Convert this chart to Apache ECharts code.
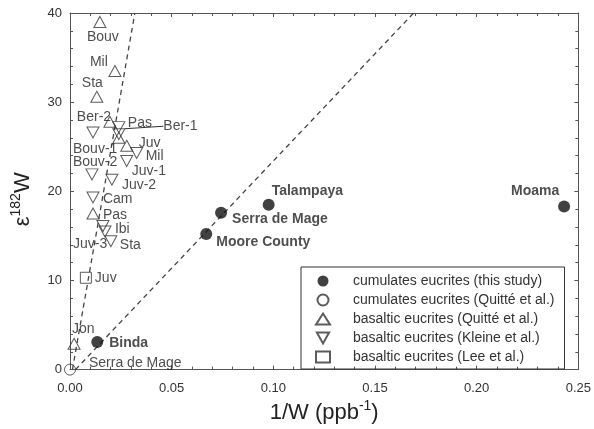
<!DOCTYPE html>
<html>
<head>
<meta charset="utf-8">
<script src="https://cdn.jsdelivr.net/npm/echarts@6/dist/echarts.min.js"></script>
<style>
    html, body { margin: 0; padding: 0; background: #fff; }
    #chart { width: 594px; height: 429px; }
</style>
</head>
<body>
<div id="chart"></div>
<script>
// cumulates eucrites (this study)
const studyNames = ['Binda', 'Moore County', 'Serra de Mage', 'Talampaya', 'Moama'];
const studyX = [0.0134, 0.067, 0.0743, 0.0977, 0.243];
const studyY = [3.1, 15.2, 17.6, 18.5, 18.3];

// cumulates eucrites (Quitté et al.)
const cumQuitteNames = ['Serra de Mage'];
const cumQuitteX = [0.0];
const cumQuitteY = [0.0];

// basaltic eucrites (Quitté et al.)
const basQuitteNames = ['Bouv', 'Mil', 'Sta', 'Ber-2', '', 'Juv', 'Pas', 'Jon'];
const basQuitteX = [0.0147, 0.0221, 0.0132, 0.0196, 0.024, 0.0279, 0.0113, 0.002];
const basQuitteY = [39.0, 33.5, 30.6, 27.8, 26.0, 25.1, 17.5, 2.9];

// basaltic eucrites (Kleine et al.)
const kleineNames = ['Bouv-1', 'Pas', 'Ber-1', 'Mil', 'Juv-1', 'Bouv-2', 'Juv-2', 'Cam', 'Ibi', 'Juv-3', 'Sta'];
const kleineX = [0.0113, 0.024, 0.024, 0.0328, 0.0279, 0.0108, 0.0206, 0.0113, 0.0162, 0.0172, 0.0201];
const kleineY = [26.6, 27.2, 26.4, 24.3, 23.4, 21.9, 21.3, 19.3, 16.1, 15.5, 14.4];

// basaltic eucrites (Lee et al.)
const leeNames = ['Juv'];
const leeX = [0.0078];
const leeY = [10.3];

// dashed reference lines
const steepLineX = [0.0012, 0.0319];
const steepLineY = [0, 40];
const shallowLineX = [0.0027, 0.169];
const shallowLineY = [0, 40];

const xTicks = [0, 0.05, 0.10, 0.15, 0.20, 0.25];
const yTicks = [0, 10, 20, 30, 40];

// label offsets (px) relative to marker centre
const studyLabelOffsets = [[12, 1], [10, 8], [11, 6], [3, -14], [-53, -15]];
const cumQuitteLabelOffsets = [[19, -6]];
const basQuitteLabelOffsets = [[-13, 15], [-25, -9], [-15, -14], [-33, -5], [0, 0], [12, -3], [10, 2], [-2, -15]];
const kleineLabelOffsets = [[-20, 17], [9, -4], [33, -8], [9, 3], [5, 10], [-19, -12], [10, 5], [10, 2], [12, 3], [-32, 13], [9, 4]];
const leeLabelOffsets = [[9, 0]];

const FONT = 'Liberation Sans, Arial, sans-serif';
const INK = '#222';
const FRAME = '#555';

const buildData = (names, xs, ys, offsets, bold) => names.map((name, i) => ({
    name,
    value: [xs[i], ys[i]],
    label: {
        show: name !== '',
        position: 'inside',
        align: 'left',
        verticalAlign: 'middle',
        offset: offsets ? offsets[i] : [0, 0],
        color: INK,
        fontFamily: FONT,
        fontSize: 14,
        fontWeight: bold ? 'bold' : 'normal',
        textBorderWidth: 0,
        formatter: '{b}',
    },
}));

// Kleine labels are placed through labelLayout so Ber-1 can have a leader line
const kleineData = buildData(kleineNames, kleineX, kleineY, null, false);
const berIndex = kleineNames.indexOf('Ber-1');
kleineData[berIndex].label.position = 'right';
kleineData[berIndex].labelLine = { show: true, lineStyle: { color: '#333', width: 1 } };

const openStyle = { color: 'rgba(255,255,255,0)', borderColor: '#333', borderWidth: 1 };
const downTriangle = 'path://M0,0L10,0L5,9Z';

const lineSeries = (xs, ys) => ({
    type: 'line',
    data: xs.map((x, i) => [x, ys[i]]),
    symbol: 'none',
    silent: true,
    lineStyle: { color: '#444', width: 1.3, type: [5, 4] },
    z: 1,
});

const axisCommon = {
    axisLine: { onZero: false, lineStyle: { color: FRAME, width: 1 } },
    axisTick: { inside: true, length: 4, lineStyle: { color: FRAME } },
    minorTick: { show: true, splitNumber: 5, length: 3, lineStyle: { color: FRAME } },
    splitLine: { show: false },
};

const nameStyle = {
    fontFamily: FONT,
    fontSize: 22,
    color: INK,
    rich: { sup: { fontFamily: FONT, fontSize: 14, color: INK, padding: [0, 0, 13, 0] } },
};

const chart = echarts.init(document.getElementById('chart'), null, { renderer: 'canvas' });

chart.setOption({
    backgroundColor: '#fff',
    animation: false,
    grid: { left: 70, right: 14, top: 13, bottom: 54 },
    xAxis: [
        {
            ...axisCommon,
            type: 'value',
            min: xTicks[0],
            max: xTicks[xTicks.length - 1],
            interval: 0.05,
            name: '1/W (ppb{sup|-1})',
            nameLocation: 'middle',
            nameGap: 25,
            nameTextStyle: nameStyle,
            axisLabel: {
                margin: 12,
                color: '#333',
                fontFamily: FONT,
                fontSize: 13,
                formatter: (v) => v.toFixed(2),
            },
        },
        {
            ...axisCommon,
            type: 'value',
            position: 'top',
            min: xTicks[0],
            max: xTicks[xTicks.length - 1],
            interval: 0.05,
            axisLabel: { show: false },
        },
    ],
    yAxis: [
        {
            ...axisCommon,
            type: 'value',
            min: yTicks[0],
            max: yTicks[yTicks.length - 1],
            interval: 10,
            name: 'ε{sup|182}W',
            nameLocation: 'middle',
            nameGap: 34,
            nameRotate: 90,
            nameTextStyle: { ...nameStyle, padding: [0, 16, 0, 0] },
            axisLabel: { margin: 8, color: '#333', fontFamily: FONT, fontSize: 13 },
        },
        {
            ...axisCommon,
            type: 'value',
            position: 'right',
            min: yTicks[0],
            max: yTicks[yTicks.length - 1],
            interval: 10,
            axisLabel: { show: false },
        },
    ],
    legend: {
        orient: 'vertical',
        left: 301,
        top: 267,
        padding: [7, 10, 5, 14],
        itemGap: 5,
        itemWidth: 14,
        itemHeight: 11,
        borderColor: '#333',
        borderWidth: 1,
        textStyle: {
            fontFamily: FONT,
            fontSize: 14,
            color: '#333',
            lineHeight: 14,
            padding: [0, 0, 0, 18],
        },
        data: [
            'cumulates eucrites (this study)',
            'cumulates eucrites (Quitté et al.)',
            'basaltic eucrites (Quitté et al.)',
            'basaltic eucrites (Kleine et al.)',
            'basaltic eucrites (Lee et al.)',
        ],
    },
    series: [
        lineSeries(steepLineX, steepLineY),
        lineSeries(shallowLineX, shallowLineY),
        {
            name: 'cumulates eucrites (this study)',
            type: 'scatter',
            symbol: 'circle',
            symbolSize: 12,
            itemStyle: { color: '#111' },
            data: buildData(studyNames, studyX, studyY, studyLabelOffsets, true),
            z: 5,
        },
        {
            name: 'cumulates eucrites (Quitté et al.)',
            type: 'scatter',
            symbol: 'circle',
            symbolSize: 11,
            itemStyle: openStyle,
            data: buildData(cumQuitteNames, cumQuitteX, cumQuitteY, cumQuitteLabelOffsets, false),
            z: 5,
        },
        {
            name: 'basaltic eucrites (Quitté et al.)',
            type: 'scatter',
            symbol: 'triangle',
            symbolSize: [12, 11],
            itemStyle: openStyle,
            data: buildData(basQuitteNames, basQuitteX, basQuitteY, basQuitteLabelOffsets, false),
            z: 5,
        },
        {
            name: 'basaltic eucrites (Kleine et al.)',
            type: 'scatter',
            symbol: downTriangle,
            symbolSize: [12, 11],
            itemStyle: openStyle,
            data: kleineData,
            labelLayout: (params) => {
                const [dx, dy] = kleineLabelOffsets[params.dataIndex];
                return { dx, dy };
            },
            z: 5,
        },
        {
            name: 'basaltic eucrites (Lee et al.)',
            type: 'scatter',
            symbol: 'rect',
            symbolSize: 11,
            itemStyle: openStyle,
            data: buildData(leeNames, leeX, leeY, leeLabelOffsets, false),
            z: 5,
        },
    ],
});
</script>
</body>
</html>
